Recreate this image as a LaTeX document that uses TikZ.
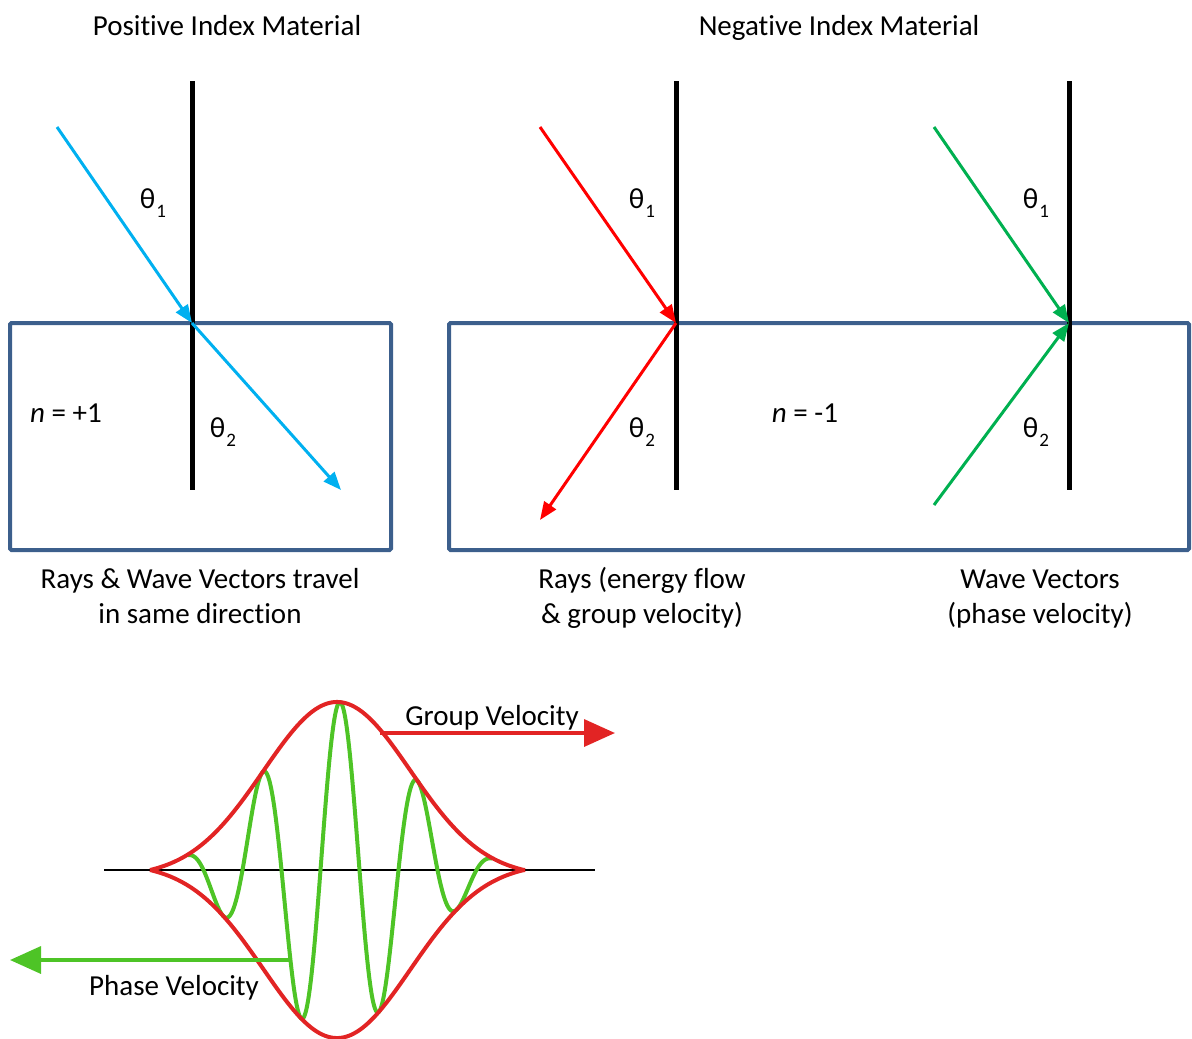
\documentclass[tikz,border=0pt]{standalone}
\usepackage{fontspec}
\setmainfont[Ligatures=NoCommon]{Carlito}
\usetikzlibrary{arrows.meta}
\definecolor{slabBlue}{RGB}{60, 95,140}
\definecolor{rayCyan} {RGB}{ 0,176,240}
\definecolor{rayRed}  {RGB}{255, 0,  0}
\definecolor{rayGreen}{RGB}{ 0,176, 80}
\definecolor{pktRed}  {RGB}{226, 36, 36}
\definecolor{pktGreen}{RGB}{ 78,196, 38}
\newcommand{\thetasub}[1]{θ\kern1pt\raisebox{-9pt}{\fontsize{19}{19}\selectfont #1}}

\begin{document}
\begin{tikzpicture}[x=1pt,y=-1pt,
  every node/.style={font=\fontsize{29}{35}\selectfont,inner sep=0pt,anchor=base},
  normalline/.style={line width=5pt},
  slab/.style={draw=slabBlue,line width=4pt,rounded corners=1.5pt},
  ray/.style={line width=3pt,-{Triangle[length=18pt,width=14pt]}},
  env/.style={draw=pktRed,line width=4pt},
  carrier/.style={draw=pktGreen,line width=4pt},
  bigarrow/.style={line width=3.5pt,-{Triangle[length=31pt,width=27pt]}},
  declare function={pk(\x)=(exp(-((\x-337)/104)*((\x-337)/104))-0.0394)/0.9606;}
]
\useasboundingbox (0,0) rectangle (1192,1039);
% Headers
\node (posT) at (227,35) {Positive Index Material};
\node (negT) at (839,35) {Negative Index Material};
% Slabs
\draw[slab] (10,323) rectangle (391,550);
\draw[slab] (449,323) rectangle (1189,550);
% Normals
\draw[normalline] (192,81) -- (192,490);
\draw[normalline] (676,81) -- (676,490);
\draw[normalline] (1069,81) -- (1069,490);
% Points on the rays
\coordinate (srcP) at (57,127);
\coordinate (hitP) at (192,323);
\coordinate (endP) at (341,490);
\coordinate (srcR) at (540,127);
\coordinate (hitR) at (676,323);
\coordinate (endR) at (540,520);
\coordinate (srcG) at (934,127);
\coordinate (hitG) at (1069,323);
\coordinate (botG) at (934,505);
% Positive index rays
\draw[ray,rayCyan] (srcP) -- (hitP);
\draw[ray,rayCyan] (hitP) -- (endP);
% Negative index rays
\draw[ray,rayRed] (srcR) -- (hitR);
\draw[ray,rayRed] (hitR) -- (endR);
\draw[ray,rayGreen] (srcG) -- (hitG);
\draw[ray,rayGreen] (botG) -- (hitG);
% Angles
\node (thP1) at (153,208) {\thetasub{1}};
\node (thP2) at (223,437) {\thetasub{2}};
\node (thR1) at (642,208) {\thetasub{1}};
\node (thR2) at (642,437) {\thetasub{2}};
\node (thG1) at (1036,208) {\thetasub{1}};
\node (thG2) at (1036,437) {\thetasub{2}};
% Indices
\node (nPos) at (66,422) {\textit{n} = +1};
\node (nNeg) at (805,422) {\textit{n} = -1};
% Captions (base = last line)
\node[align=center] (capP) at (200,623) {Rays \& Wave Vectors travel\\in same direction};
\node[align=center] (capR) at (642,623) {Rays (energy flow\\\& group velocity)};
\node[align=center] (capG) at (1040,623) {Wave Vectors\\(phase velocity)};
% Wave packet
\coordinate (axL) at (104,870);
\coordinate (axR) at (595,870);
\draw[line width=2pt] (axL) -- (axR);
\draw[carrier] plot[domain=188:492,samples=300,smooth] (\x,{870-168*pk(\x)*cos(4.6154*(\x-340))});
\draw[env] plot[domain=150:525,samples=200,smooth] (\x,{870-168*pk(\x)});
\draw[env] plot[domain=150:525,samples=200,smooth] (\x,{870+168*pk(\x)});
% Velocities
\coordinate (gvS) at (380,733);
\coordinate (gvE) at (615,733);
\coordinate (pvS) at (291,960);
\coordinate (pvE) at (10,960);
\draw[bigarrow,pktRed] (gvS) -- (gvE);
\draw[bigarrow,pktGreen] (pvS) -- (pvE);
\node (gvL) at (492,725) {Group Velocity};
\node (pvL) at (174,995) {Phase Velocity};
\end{tikzpicture}
\end{document}
